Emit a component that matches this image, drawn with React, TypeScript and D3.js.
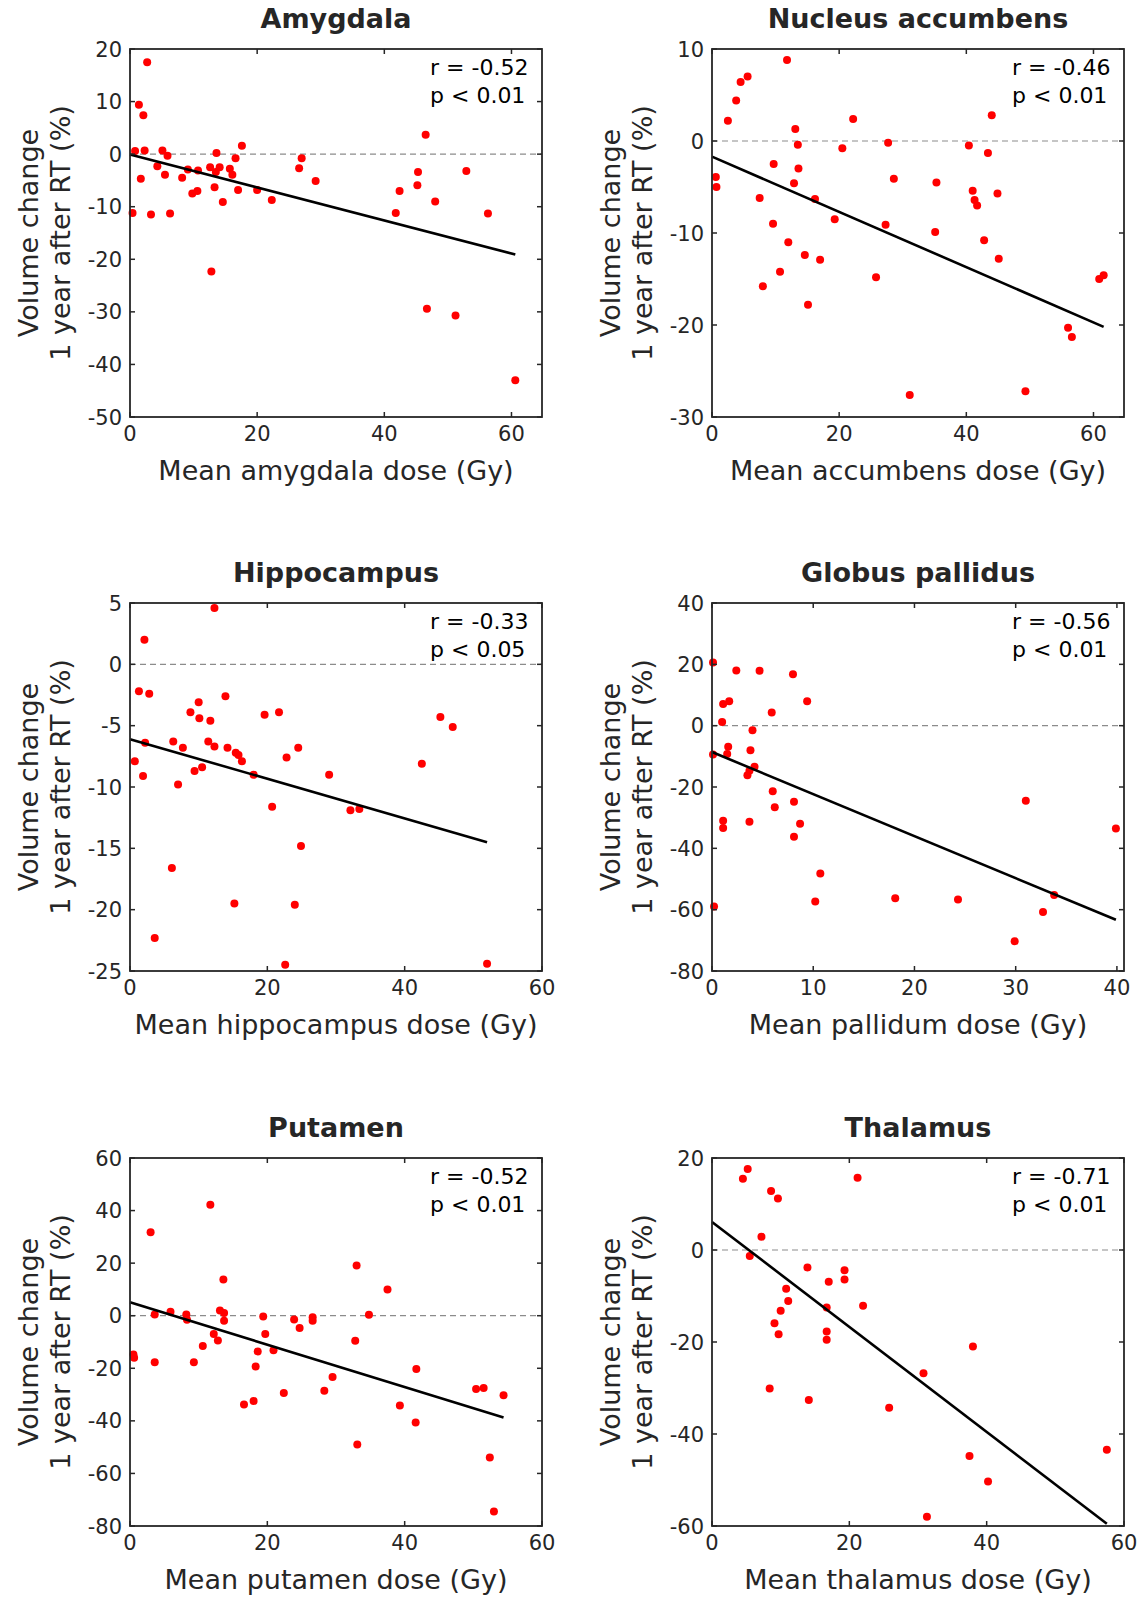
import React from "react";
import * as d3 from "d3";

// ---------- data ----------
const titles = ["Amygdala", "Nucleus accumbens", "Hippocampus", "Globus pallidus", "Putamen", "Thalamus"];
const xLabels = [
  "Mean amygdala dose (Gy)",
  "Mean accumbens dose (Gy)",
  "Mean hippocampus dose (Gy)",
  "Mean pallidum dose (Gy)",
  "Mean putamen dose (Gy)",
  "Mean thalamus dose (Gy)",
];
const rLabels = ["r = -0.52", "r = -0.46", "r = -0.33", "r = -0.56", "r = -0.52", "r = -0.71"];
const pLabels = ["p < 0.01", "p < 0.01", "p < 0.05", "p < 0.01", "p < 0.01", "p < 0.01"];

const xDomains: [number, number][] = [[0, 64.8], [0, 64.8], [0, 60], [0, 40.7], [0, 60], [0, 60]];
const yDomains: [number, number][] = [[-50, 20], [-30, 10], [-25, 5], [-80, 40], [-80, 60], [-60, 20]];
const xTickVals = [
  [0, 20, 40, 60],
  [0, 20, 40, 60],
  [0, 20, 40, 60],
  [0, 10, 20, 30, 40],
  [0, 20, 40, 60],
  [0, 20, 40, 60],
];
const yTickVals = [
  [-50, -40, -30, -20, -10, 0, 10, 20],
  [-30, -20, -10, 0, 10],
  [-25, -20, -15, -10, -5, 0, 5],
  [-80, -60, -40, -20, 0, 20, 40],
  [-80, -60, -40, -20, 0, 20, 40, 60],
  [-60, -40, -20, 0, 20],
];

const amygdalaDose = [2.7, 1.4, 2.1, 0.8, 2.3, 5.1, 5.9, 1.7, 4.3, 5.5, 0.4, 3.3, 6.3, 8.2, 9.1, 10.7, 9.8, 10.6, 12.6, 13.6, 13.5, 14.1, 13.3, 14.6, 12.8, 15.7, 16.1, 16.6, 17.6, 17.0, 20.0, 22.3, 26.6, 27.0, 29.2, 46.5, 45.3, 45.2, 42.4, 41.8, 48.0, 52.9, 56.3, 46.7, 51.2, 60.6];
const amygdalaChange = [17.5, 9.4, 7.4, 0.6, 0.7, 0.7, -0.3, -4.7, -2.3, -3.9, -11.2, -11.5, -11.3, -4.5, -2.9, -3.1, -7.5, -7.0, -2.5, 0.2, -3.4, -2.5, -6.3, -9.1, -22.3, -2.8, -3.9, -0.8, 1.6, -6.8, -6.8, -8.7, -2.7, -0.8, -5.1, 3.7, -3.4, -5.9, -7.0, -11.2, -9.0, -3.2, -11.3, -29.4, -30.7, -43.0];

const accumbensDose = [11.8, 4.5, 5.6, 3.8, 2.5, 13.1, 13.5, 22.2, 20.5, 27.7, 0.6, 0.7, 9.7, 13.6, 12.9, 7.5, 16.2, 19.3, 9.6, 27.3, 12.0, 14.6, 17.0, 10.7, 8.0, 15.1, 25.8, 44.0, 40.4, 43.4, 28.6, 35.3, 41.0, 41.3, 41.7, 44.9, 35.1, 42.8, 45.1, 60.9, 61.6, 56.0, 56.6, 31.1, 49.3];
const accumbensChange = [8.8, 6.4, 7.0, 4.4, 2.2, 1.3, -0.4, 2.4, -0.8, -0.2, -3.9, -5.0, -2.5, -3.0, -4.6, -6.2, -6.3, -8.5, -9.0, -9.1, -11.0, -12.4, -12.9, -14.2, -15.8, -17.8, -14.8, 2.8, -0.5, -1.3, -4.1, -4.5, -5.4, -6.4, -7.0, -5.7, -9.9, -10.8, -12.8, -15.0, -14.6, -20.3, -21.3, -27.6, -27.2];

const hippocampusDose = [12.3, 2.1, 1.3, 2.8, 13.9, 10.0, 8.8, 10.1, 11.7, 19.6, 21.7, 2.2, 6.3, 7.7, 11.4, 12.3, 14.2, 15.4, 15.8, 16.3, 0.7, 1.9, 9.4, 10.5, 7.0, 18.0, 22.8, 24.5, 20.7, 24.9, 6.1, 15.2, 24.0, 3.6, 22.6, 29.0, 32.1, 33.4, 42.5, 45.2, 47.0, 52.0];
const hippocampusChange = [4.6, 2.0, -2.2, -2.4, -2.6, -3.1, -3.9, -4.4, -4.6, -4.1, -3.9, -6.4, -6.3, -6.8, -6.3, -6.7, -6.8, -7.2, -7.4, -7.9, -7.9, -9.1, -8.7, -8.4, -9.8, -9.0, -7.6, -6.8, -11.6, -14.8, -16.6, -19.5, -19.6, -22.3, -24.5, -9.0, -11.9, -11.8, -8.1, -4.3, -5.1, -24.4];

const pallidusDose = [0.1, 2.4, 4.7, 8.0, 1.1, 1.7, 9.4, 5.9, 1.0, 4.0, 1.6, 1.5, 0.1, 3.8, 4.2, 3.7, 3.5, 6.0, 6.2, 8.1, 8.7, 8.1, 1.1, 1.1, 3.7, 10.7, 10.2, 0.2, 31.0, 18.1, 24.3, 33.8, 32.7, 29.9, 39.9];
const pallidusChange = [20.6, 18.0, 17.9, 16.8, 7.1, 8.0, 8.0, 4.3, 1.2, -1.5, -6.9, -9.2, -9.4, -8.0, -13.4, -14.7, -16.2, -21.4, -26.6, -24.8, -32.0, -36.2, -31.0, -33.4, -31.3, -48.2, -57.3, -59.0, -24.5, -56.3, -56.7, -55.2, -60.8, -70.3, -33.5];

const putamenDose = [11.7, 3.0, 13.6, 3.6, 5.9, 8.2, 8.3, 13.1, 13.7, 13.7, 19.4, 23.9, 24.7, 26.6, 26.6, 12.2, 12.8, 19.7, 10.6, 0.5, 0.6, 3.6, 9.3, 18.6, 20.9, 18.3, 22.4, 16.6, 18.0, 33.0, 37.5, 34.8, 32.8, 29.5, 28.3, 41.7, 39.3, 41.6, 33.1, 50.4, 51.5, 54.4, 52.4, 53.0];
const putamenChange = [42.2, 31.8, 13.8, 0.5, 1.5, 0.5, -1.5, 2.0, 1.0, -1.9, -0.3, -1.4, -4.7, -0.6, -1.9, -7.0, -9.4, -7.0, -11.5, -14.8, -16.0, -17.7, -17.7, -13.6, -13.1, -19.3, -29.4, -33.8, -32.4, 19.1, 10.0, 0.4, -9.5, -23.3, -28.5, -20.3, -34.2, -40.6, -49.0, -27.9, -27.5, -30.3, -53.9, -74.5];

const thalamusDose = [5.2, 4.5, 8.6, 9.6, 21.2, 7.2, 5.5, 13.9, 19.3, 19.3, 17.0, 10.8, 11.1, 16.7, 22.0, 10.0, 9.1, 9.7, 16.7, 16.7, 8.4, 14.1, 25.8, 38.0, 30.8, 57.5, 37.5, 40.2, 31.3];
const thalamusChange = [17.6, 15.5, 12.8, 11.2, 15.7, 2.9, -1.3, -3.8, -4.4, -6.4, -6.9, -8.4, -11.1, -12.5, -12.1, -13.2, -15.9, -18.3, -17.7, -19.5, -30.1, -32.6, -34.3, -21.0, -26.8, -43.4, -44.8, -50.3, -58.0];

// regression line end points: [x0, x1] and [y0, y1]
const fitDose = [[0, 60.6], [0, 61.6], [0, 52.0], [0, 39.9], [0, 54.4], [0, 57.5]];
const fitChange = [[-0.05, -19.1], [-1.7, -20.2], [-6.1, -14.5], [-8.6, -63.3], [5.1, -38.7], [6.1, -59.5]];

const doses = [amygdalaDose, accumbensDose, hippocampusDose, pallidusDose, putamenDose, thalamusDose];
const changes = [amygdalaChange, accumbensChange, hippocampusChange, pallidusChange, putamenChange, thalamusChange];

// ---------- layout ----------
const PW = 412;
const PH = 368;
const colLeft = [130, 712];
const rowTop = [49, 603, 1158];
const FONT = "'DejaVu Sans', Verdana, sans-serif";
const AXIS = "#262626";

function Panel({ i }: { i: number }) {
  const left = colLeft[i % 2];
  const top = rowTop[Math.floor(i / 2)];
  const x = d3.scaleLinear().domain(xDomains[i]).range([0, PW]);
  const y = d3.scaleLinear().domain(yDomains[i]).range([PH, 0]);
  const line = d3
    .line<[number, number]>()
    .x((d) => x(d[0]))
    .y((d) => y(d[1]));
  const fitPts: [number, number][] = [
    [fitDose[i][0], fitChange[i][0]],
    [fitDose[i][1], fitChange[i][1]],
  ];
  const tl = 5;
  return (
    <g transform={`translate(${left},${top})`}>
      {/* zero line */}
      <line x1={0} x2={PW} y1={y(0)} y2={y(0)} stroke="#8c8c8c" strokeWidth={1.2} strokeDasharray="6,4" />
      {/* points */}
      {doses[i].map((d, k) => (
        <circle key={k} cx={x(d)} cy={y(changes[i][k])} r={4} fill="#ff0000" />
      ))}
      {/* fit */}
      <path d={line(fitPts) || ""} stroke="#000" strokeWidth={2.6} fill="none" />
      {/* box */}
      <rect x={0} y={0} width={PW} height={PH} fill="none" stroke={AXIS} strokeWidth={1.8} />
      {/* x ticks */}
      {xTickVals[i].map((t) => (
        <g key={"x" + t}>
          <line x1={x(t)} x2={x(t)} y1={PH} y2={PH - tl} stroke={AXIS} strokeWidth={1.5} />
          <line x1={x(t)} x2={x(t)} y1={0} y2={tl} stroke={AXIS} strokeWidth={1.5} />
          <text x={x(t)} y={PH + 24} textAnchor="middle" fontSize={21} fill={AXIS} fontFamily={FONT}>
            {t}
          </text>
        </g>
      ))}
      {/* y ticks */}
      {yTickVals[i].map((t) => (
        <g key={"y" + t}>
          <line x1={0} x2={tl} y1={y(t)} y2={y(t)} stroke={AXIS} strokeWidth={1.5} />
          <line x1={PW} x2={PW - tl} y1={y(t)} y2={y(t)} stroke={AXIS} strokeWidth={1.5} />
          <text x={-8} y={y(t)} dy="0.36em" textAnchor="end" fontSize={21} fill={AXIS} fontFamily={FONT}>
            {t}
          </text>
        </g>
      ))}
      {/* title */}
      <text x={PW / 2} y={-21} textAnchor="middle" fontSize={27} fontWeight="bold" fill={AXIS} fontFamily={FONT}>
        {titles[i]}
      </text>
      {/* x label */}
      <text x={PW / 2} y={PH + 63} textAnchor="middle" fontSize={27} fill={AXIS} fontFamily={FONT}>
        {xLabels[i]}
      </text>
      {/* y label */}
      <g transform={`translate(${-72},${PH / 2}) rotate(-90)`}>
        <text x={0} y={-20} textAnchor="middle" fontSize={27} fill={AXIS} fontFamily={FONT}>
          Volume change
        </text>
        <text x={0} y={12} textAnchor="middle" fontSize={27} fill={AXIS} fontFamily={FONT}>
          1 year after RT (%)
        </text>
      </g>
      {/* stats */}
      <text x={300} y={26} fontSize={22} fill="#000" fontFamily={FONT}>
        {rLabels[i]}
      </text>
      <text x={300} y={54} fontSize={22} fill="#000" fontFamily={FONT}>
        {pLabels[i]}
      </text>
    </g>
  );
}

export default function App() {
  return (
    <svg
      width={1147}
      height={1598}
      style={{ position: "absolute", left: 0, top: 0, background: "#fff" }}
    >
      <rect x={0} y={0} width={1147} height={1598} fill="#fff" />
      {titles.map((_, i) => (
        <Panel key={i} i={i} />
      ))}
    </svg>
  );
}
